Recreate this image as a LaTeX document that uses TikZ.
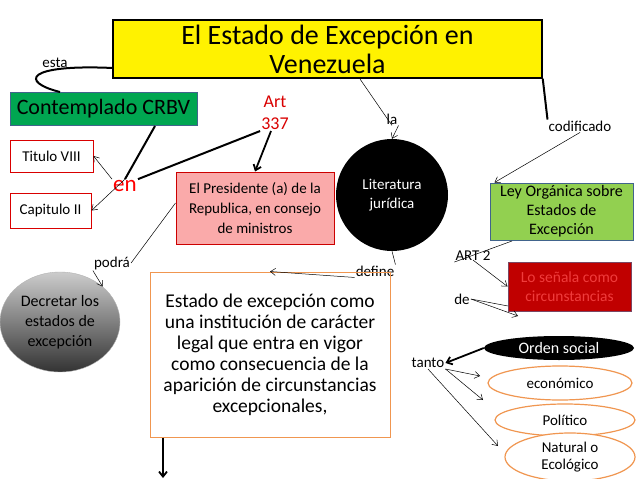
\documentclass[tikz,border=0pt]{standalone}
\usepackage{fontspec}
\setmainfont{Carlito}
\usetikzlibrary{shapes.geometric,arrows.meta}
\definecolor{ygreen}{RGB}{146,208,80}
\definecolor{dgreen}{RGB}{0,166,81}
\definecolor{bord}{RGB}{65,100,140}
\definecolor{dred}{RGB}{192,0,0}
\definecolor{ored}{RGB}{240,60,60}
\definecolor{orng}{RGB}{240,150,80}
\definecolor{pinkf}{RGB}{250,170,170}
\tikzset{
 thin arr/.style={draw,-{Straight Barb[length=5pt,width=7pt]},line width=0.5pt},
 thick arr/.style={draw,-{Straight Barb[length=5pt,width=8pt]},line width=1.8pt},
 thinln/.style={draw,line width=0.5pt},
 thickln/.style={draw,line width=2pt},
 lbl/.style={font=\fontsize{15}{17}\selectfont,inner sep=1pt},
 redbox/.style={draw=red!85!black,line width=1pt,fill=white,font=\fontsize{15}{17}\selectfont},
 oell/.style={ellipse,draw=orng,line width=1.2pt,fill=white,font=\fontsize{15}{17}\selectfont,align=center,inner sep=0pt}
}
\begin{document}
\begin{tikzpicture}[x=1pt,y=-1pt]
\useasboundingbox (0,0) rectangle (638,479);
\node[draw,line width=1.5pt,fill=yellow,minimum width=429pt,minimum height=58pt,inner sep=1pt,align=center,font=\fontsize{28}{29}\selectfont] (title) at (327.5,49) {El Estado de Excepción en\\Venezuela};
\node[lbl] (esta) at (55,63) {esta};
\node[fill=dgreen,draw=bord,line width=1pt,minimum width=187pt,minimum height=33pt,font=\fontsize{22}{24}\selectfont] (crbv) at (103.5,108.5) {Contemplado CRBV};
\node[lbl,text=red!85!black,align=center,font=\fontsize{18}{22}\selectfont] (art) at (275,113) {Art\\337};
\node[redbox,minimum width=83pt,minimum height=32pt] (tit) at (51.5,156) {Titulo VIII};
\node[redbox,minimum width=81pt,minimum height=35pt] (cap) at (50.5,210.5) {Capitulo II};
\node[text=red,font=\fontsize{23}{24}\selectfont,inner sep=1pt] (en) at (125,186) {en};
\node[draw=red!80!black,fill=pinkf,line width=1pt,minimum width=158pt,minimum height=72pt,inner sep=1pt,align=center,font=\fontsize{15}{20}\selectfont] (pres) at (255,208) {El Presidente (a) de la\\Republica, en consejo\\de ministros};
\node[circle,fill=black,minimum size=112pt,text=white,align=center,font=\fontsize{15}{19}\selectfont] (lit) at (392,195) {Literatura\\jurídica};
\node[lbl] (la) at (392,119) {la};
\node[lbl] (cod) at (580,126) {codificado};
\node[fill=ygreen,draw=bord,line width=1pt,minimum width=143pt,minimum height=57pt,inner sep=1pt,align=center,font=\fontsize{16}{19}\selectfont] (ley) at (561.5,211.5) {Ley Orgánica sobre\\Estados de\\Excepción};
\node[lbl] (pod) at (112,263) {podrá};
\node[ellipse,draw=gray!60,top color=gray!40,bottom color=black!80,minimum width=120pt,minimum height=100pt,align=center,inner sep=0pt,font=\fontsize{16}{20}\selectfont] (dec) at (60,322) {Decretar los\\estados de\\excepción};
\node[lbl] (def) at (375,271) {define};
\node[draw=orng,line width=1pt,minimum width=240pt,minimum height=165pt,inner sep=1pt,align=center,font=\fontsize{19.5}{21}\selectfont] (est) at (270,354.5) {Estado de excepción como\\una institución de carácter\\legal que entra en vigor\\como consecuencia de la\\aparición de circunstancias\\excepcionales,};
\coordinate (down) at (163,478);
\node[lbl] (art2) at (473,256) {ART 2};
\node[fill=dred,draw=bord!70!red,line width=1pt,minimum width=123pt,minimum height=49pt,inner sep=1pt,align=center,text=ored,font=\fontsize{15.5}{19}\selectfont] (sen) at (569.5,286.5) {Lo señala como\\circunstancias};
\node[lbl] (de) at (462,299) {de};
\node[ellipse,fill=black,minimum width=150pt,minimum height=24pt,inner sep=0pt,text=white,font=\fontsize{16}{17}\selectfont] (ord) at (559,348) {Orden social};
\node[lbl] (tan) at (428,363) {tanto};
\node[oell,minimum width=144pt,minimum height=34pt] (eco) at (560,383) {económico};
\node[oell,minimum width=140pt,minimum height=32pt] (pol) at (565,420) {Político};
\node[oell,minimum width=130pt,minimum height=48pt] (nat) at (570,457) {Natural o\\Ecológico};
% helper coordinates on node borders
\coordinate (tl) at (113,68);
\coordinate (tb) at (360,79);
\coordinate (cb) at (155,126);
\coordinate (lb) at (512,241);
\coordinate (sb) at (508,306);
\coordinate (oe) at (518,316);
\coordinate (ee) at (480,376);
\coordinate (pe) at (483,400);
\coordinate (ne) at (498,446);
% connectors
\draw[thickln] (tl) .. controls (25,64) and (20,82) .. (60,92);
\draw[thickln] (cb) -- (en.north);
\draw[thin arr] (en.north) -- (cap.east);
\draw[thickln] (art.south west) -- (en.north east);
\draw[thin arr] (en.north west) -- (tit.east);
\draw[thick arr] ([xshift=-4pt]art.south) -- (pres.north);
\draw[thinln] (tb) -- (la.south);
\draw[thin arr] (la.south east) -- (lit.north);
\draw[thickln] (title.south east) -- (cod.north west);
\draw[thin arr] (cod.south) -- ([xshift=5pt]ley.north west);
\draw[thinln] ([yshift=5pt]pres.west) -- (pod.east);
\draw[thin arr] (pod.south west) -- (dec.north east);
\draw[thinln] (lit.south) -- (def.north east);
\draw[thin arr] (def.south west) -- (est.north);
\draw[thick arr] ([xshift=-107pt]est.south) -- (down);
\draw[thinln] (lb) -- (art2.south west);
\draw[thin arr] ([yshift=2pt]art2.south) -- (sen.west);
\draw[thinln] (sb) -- (de.east);
\draw[thin arr] (de.east) -- (oe);
\draw[thick arr] (ord.west) -- (tan.east);
\draw[thin arr] (tan.south east) -- (ee);
\draw[thin arr] (tan.south east) -- (pe);
\draw[thin arr] (tan.south) -- (ne);
\end{tikzpicture}
\end{document}
